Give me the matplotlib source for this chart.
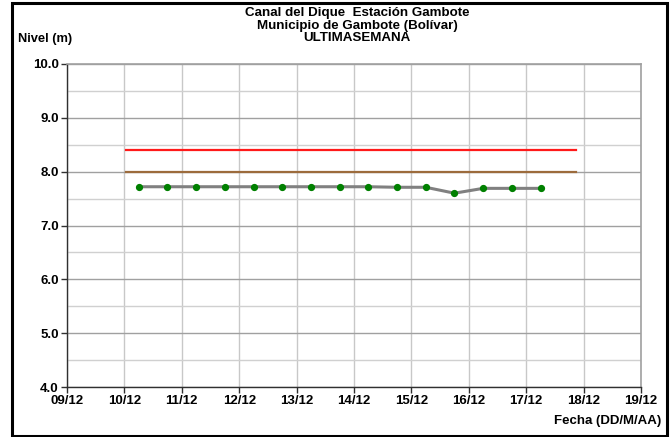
import matplotlib
matplotlib.use("Agg")
import matplotlib.pyplot as plt
import matplotlib.dates as mdates
from matplotlib.patches import Rectangle
from matplotlib.ticker import MultipleLocator
import pandas as pd

plt.rcParams["font.family"] = ["Liberation Sans", "DejaVu Sans"]
plt.rcParams["font.weight"] = "bold"

# --- data --------------------------------------------------------------
title_lines = ["Canal del Dique  Estación Gambote",
               "Municipio de Gambote (Bolívar)",
               "ULTIMASEMANA"]
y_label = "Nivel (m)"
x_label = "Fecha (DD/M/AA)"

obs_times = pd.date_range("2015-12-10 06:00", "2015-12-17 06:00", freq="12h")
obs_level = [7.72, 7.72, 7.72, 7.72, 7.72, 7.72, 7.72, 7.72,
             7.72, 7.71, 7.71, 7.60, 7.69, 7.69, 7.69]

ref_span = [pd.Timestamp("2015-12-10 00:30"), pd.Timestamp("2015-12-17 21:00")]
alert_red = 8.4
alert_orange = 8.0

x_range = [pd.Timestamp("2015-12-09"), pd.Timestamp("2015-12-19")]
y_range = [4.0, 10.0]

# --- figure --------------------------------------------------------------
W, H = 672, 437
fig = plt.figure(figsize=(W / 100, H / 100), dpi=100)
ax = fig.add_axes([67 / W, (H - 387) / H, 574 / W, 323 / H])

ax.plot(ref_span, [alert_red] * 2, color="#ff1a1a", lw=1.6, zorder=3)
ax.plot(ref_span, [alert_orange] * 2, color="#9c6b3c", lw=1.6, zorder=3)
ax.plot(obs_times, obs_level, color="#808080", lw=2.2, zorder=4,
        marker="o", ms=4.2, mfc="#008000", mec="#008000")

ax.set_xlim(x_range)
ax.set_ylim(y_range)
ax.xaxis.set_major_locator(mdates.DayLocator())
ax.xaxis.set_major_formatter(mdates.DateFormatter("%d/%m"))
ax.yaxis.set_major_locator(MultipleLocator(1.0))
ax.yaxis.set_minor_locator(MultipleLocator(0.5))
ax.yaxis.set_major_formatter(plt.FormatStrFormatter("%.1f"))

ax.grid(axis="y", which="major", color="#a0a0a0", lw=1.0)
ax.grid(axis="y", which="minor", color="#d0d0d0", lw=1.0)
ax.grid(axis="x", which="major", color="#c8c8c8", lw=1.0)
ax.set_axisbelow(True)

for side in ["left", "bottom"]:
    ax.spines[side].set_color("#303030")
    ax.spines[side].set_linewidth(1.0)
for side in ["top", "right"]:
    ax.spines[side].set_color("#a0a0a0")
    ax.spines[side].set_linewidth(1.2)

ax.tick_params(axis="both", which="major", length=4, width=1, color="#303030",
               labelsize=9.5, pad=2)
ax.tick_params(axis="y", which="minor", length=0)
for lab in ax.get_xticklabels() + ax.get_yticklabels():
    lab.set_fontweight("bold")

# titles and axis labels
for i, line in enumerate(title_lines):
    fig.text(357 / W, 1 - (13 + i * 12.7) / H, line, ha="center", va="center",
             fontsize=9.6, fontweight="bold")
fig.text(18 / W, 1 - 39 / H, y_label, ha="left", va="center",
         fontsize=9.3, fontweight="bold")
fig.text(661 / W, 1 - 421 / H, x_label, ha="right", va="center",
         fontsize=9.5, fontweight="bold")

# outer frame
fig.patches.append(Rectangle((12 / W, 1 - 436 / H), 655 / W, 433 / H,
                             transform=fig.transFigure, fill=False,
                             edgecolor="black", lw=2.2))

fig.savefig("out.png", dpi=100)
